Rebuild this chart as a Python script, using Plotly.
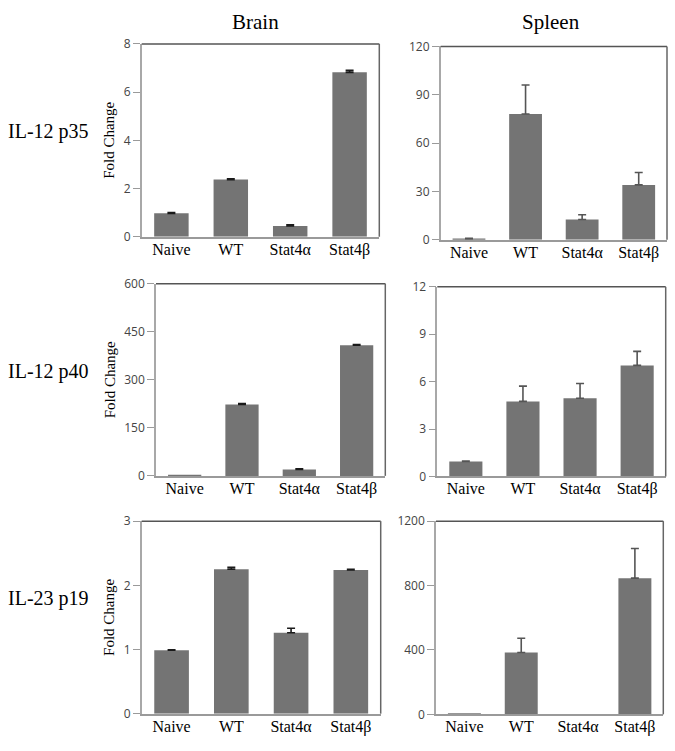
import plotly.graph_objects as go

categories = ["Naive", "WT", "Stat4\u03b1", "Stat4\u03b2"]

brain_p35 = [0.97, 2.37, 0.45, 6.82]
brain_p35_err = [0.03, 0.03, 0.04, 0.08]
spleen_p35 = [0.5, 78, 12.5, 34]
spleen_p35_err = [0.3, 18, 3, 7.7]

brain_p40 = [1, 223, 20, 408]
brain_p40_err = [None, 3, 2, 2]
spleen_p40 = [0.95, 4.75, 4.95, 7.03]
spleen_p40_err = [0.02, 0.97, 0.93, 0.89]

brain_p19 = [0.99, 2.25, 1.26, 2.24]
brain_p19_err = [0.005, 0.03, 0.07, 0.01]
spleen_p19 = [3, 384, 0, 846]
spleen_p19_err = [None, 89, None, 184]

row_labels = ["IL-12 p35", "IL-12 p40", "IL-23 p19"]
col_titles = ["Brain", "Spleen"]

W, H = 675, 751

def px(x):
    return x / W

def py(y):
    return 1 - y / H

panels = [
    # values, errors, ymax, dtick, (x0,x1,ytop,ybottom) px, err color, ytitle
    (brain_p35, brain_p35_err, 8, 2, (141.7, 379.3, 35.7, 233), "#1a1a1a", True),
    (spleen_p35, spleen_p35_err, 120, 30, (440.7, 667, 38.3, 236), "#555555", False),
    (brain_p40, brain_p40_err, 600, 150, (156, 385.3, 281, 477.7), "#1a1a1a", True),
    (spleen_p40, spleen_p40_err, 12, 3, (437.3, 665.7, 284.3, 478.3), "#555555", False),
    (brain_p19, brain_p19_err, 3, 1, (141.7, 380.7, 524, 721), "#1a1a1a", True),
    (spleen_p19, spleen_p19_err, 1200, 400, (436, 663.3, 524, 721.7), "#555555", False),
]

serif = "Liberation Serif, Times New Roman, serif"
sans = "Open Sans, Noto Sans, sans-serif"

fig = go.Figure()
layout = dict(
    width=W, height=H,
    margin=dict(l=0, r=0, t=0, b=0),
    paper_bgcolor="white", plot_bgcolor="white",
    showlegend=False,
    bargap=0.42,
)
shapes = []
annotations = []

for i, (vals, errs, ymax, dt, (x0, x1, yt, yb), ecol, ytitle) in enumerate(panels):
    k = i + 1
    xa = "x" if k == 1 else f"x{k}"
    ya = "y" if k == 1 else f"y{k}"
    # missing error values -> "NaN" so plotly.js skips the error bar entirely
    up = [e if e is not None else "NaN" for e in errs]
    dn = [0 if e is not None else "NaN" for e in errs]
    fig.add_trace(go.Bar(
        x=categories, y=vals,
        marker=dict(color="#747474", line=dict(width=0)),
        error_y=dict(type="data", array=up, arrayminus=dn, symmetric=False,
                     color=ecol, thickness=1.6, width=4),
        xaxis=xa, yaxis=ya,
    ))
    xkey = "xaxis" if k == 1 else f"xaxis{k}"
    ykey = "yaxis" if k == 1 else f"yaxis{k}"
    layout[xkey] = dict(
        domain=[px(x0), px(x1)], anchor=ya,
        showline=True, linecolor="#9a9a9a", linewidth=1.5,
        ticks="", showgrid=False, zeroline=False,
        tickfont=dict(family=serif, size=16, color="black"),
        ticklabelstandoff=-3,
        fixedrange=True,
    )
    yax = dict(
        domain=[py(yb), py(yt)], anchor=xa,
        range=[0, ymax], dtick=dt, tick0=0,
        showline=True, linecolor="#a8a8a8", linewidth=1.5,
        ticks="outside", ticklen=7, tickwidth=1, tickcolor="#9a9a9a",
        showgrid=False, zeroline=False,
        tickfont=dict(family=sans, size=12, color="#444444"),
        fixedrange=True,
    )
    if ytitle:
        yax["title"] = dict(text="Fold Change", font=dict(family=serif, size=15, color="black"), standoff=5)
    layout[ykey] = yax
    # top and right frame lines
    shapes.append(dict(type="line", xref=f"{xa} domain", yref=f"{ya} domain",
                       x0=0, x1=1, y0=1, y1=1, line=dict(color="#555555", width=1.5)))
    shapes.append(dict(type="line", xref=f"{xa} domain", yref=f"{ya} domain",
                       x0=1, x1=1, y0=0, y1=1, line=dict(color="#666666", width=1.5)))

# column titles
for t, cx in zip(col_titles, [255, 551]):
    annotations.append(dict(text=t, x=px(cx), y=py(13), xref="paper", yref="paper",
                            showarrow=False, xanchor="center", yanchor="middle",
                            font=dict(family=serif, size=21, color="black")))
# row labels
for t, cy in zip(row_labels, [125, 371, 603]):
    annotations.append(dict(text=t, x=px(6), y=py(cy), xref="paper", yref="paper",
                            showarrow=False, xanchor="left", yanchor="middle",
                            font=dict(family=serif, size=20, color="black")))

layout["shapes"] = shapes
layout["annotations"] = annotations
fig.update_layout(**layout)
fig.write_html("out.html", config={"displayModeBar": False},
               post_script="document.body.style.margin='0';document.body.style.overflow='hidden';")
